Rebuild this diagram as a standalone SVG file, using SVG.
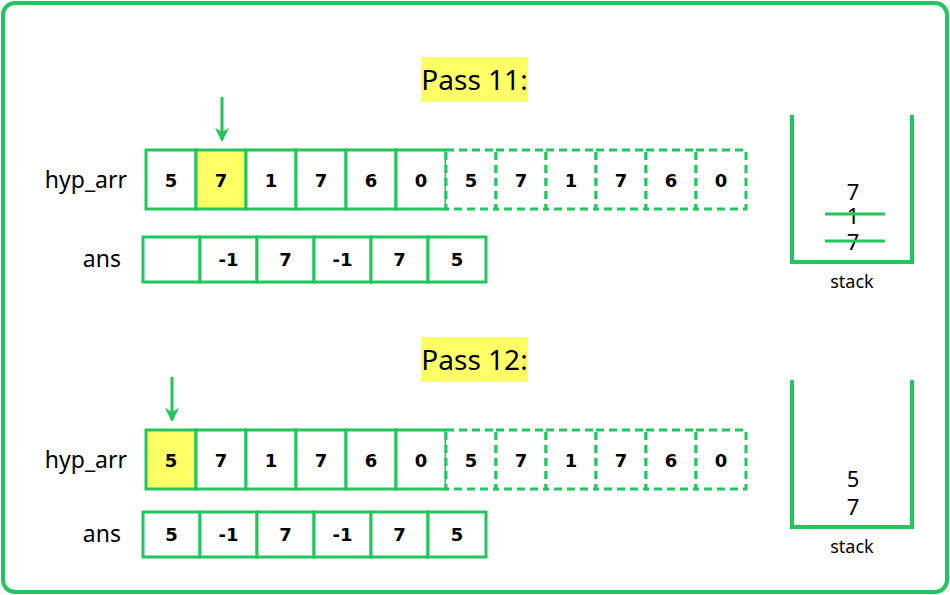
<svg xmlns="http://www.w3.org/2000/svg" width="950" height="595" viewBox="0 0 950 595">
<defs>
<style>
.cell{fill:#fff;stroke:#22c55e;stroke-width:3}
.hl{fill:#ffff66;stroke:#22c55e;stroke-width:3}
.dash{fill:#fff;stroke:#22c55e;stroke-width:3;stroke-dasharray:8 5}
.num{font-family:"DejaVu Sans",Verdana,sans-serif;font-weight:bold;font-size:18px;fill:#000;text-anchor:middle}
.lbl{font-family:"Noto Sans","Open Sans",sans-serif;font-size:23px;fill:#000;text-anchor:end}
.title{font-family:"Noto Sans","Open Sans",sans-serif;font-size:28px;fill:#000;text-anchor:middle}
.stk{font-family:"Noto Sans","Open Sans",sans-serif;font-size:22px;fill:#000;text-anchor:middle}
.stklbl{font-family:"Noto Sans","Open Sans",sans-serif;font-size:18px;fill:#000;text-anchor:middle}
.g{stroke:#22c55e;stroke-width:4;fill:none}
</style>
<marker id="ah" markerWidth="14" markerHeight="14" refX="12" refY="7" orient="auto" markerUnits="userSpaceOnUse" viewBox="0 0 14 14">
<path d="M0,0 L14,7 L0,14 L4,7 Z" fill="#22c55e"/>
</marker>
</defs>
<rect x="3" y="3" width="944" height="589" rx="12" fill="#fff" stroke="#22c55e" stroke-width="4"/>

<g id="pass11">
<g id="title11"><rect x="421" y="57" width="107" height="45" fill="#ffff66"/><text class="title" x="474.5" y="90">Pass 11:</text></g>
<g id="hyp1">
<text class="lbl" x="127" y="188">hyp_arr</text>
<rect class="cell" x="146" y="150" width="50" height="59"/><text class="num" x="171" y="187">5</text>
<rect class="hl" x="196" y="150" width="50" height="59"/><text class="num" x="221" y="187">7</text>
<rect class="cell" x="246" y="150" width="50" height="59"/><text class="num" x="271" y="187">1</text>
<rect class="cell" x="296" y="150" width="50" height="59"/><text class="num" x="321" y="187">7</text>
<rect class="cell" x="346" y="150" width="50" height="59"/><text class="num" x="371" y="187">6</text>
<rect class="cell" x="396" y="150" width="50" height="59"/><text class="num" x="421" y="187">0</text>
<rect class="dash" x="446" y="150" width="50" height="59"/><text class="num" x="471" y="187">5</text>
<rect class="dash" x="496" y="150" width="50" height="59"/><text class="num" x="521" y="187">7</text>
<rect class="dash" x="546" y="150" width="50" height="59"/><text class="num" x="571" y="187">1</text>
<rect class="dash" x="596" y="150" width="50" height="59"/><text class="num" x="621" y="187">7</text>
<rect class="dash" x="646" y="150" width="50" height="59"/><text class="num" x="671" y="187">6</text>
<rect class="dash" x="696" y="150" width="50" height="59"/><text class="num" x="721" y="187">0</text>
</g>
<g id="ans1">
<text class="lbl" x="121" y="267">ans</text>
<rect class="cell" x="143" y="237" width="57" height="45"/>
<rect class="cell" x="200" y="237" width="57" height="45"/><text class="num" x="228.5" y="266">-1</text>
<rect class="cell" x="257" y="237" width="57" height="45"/><text class="num" x="285.5" y="266">7</text>
<rect class="cell" x="314" y="237" width="57" height="45"/><text class="num" x="342.5" y="266">-1</text>
<rect class="cell" x="371" y="237" width="57" height="45"/><text class="num" x="399.5" y="266">7</text>
<rect class="cell" x="428" y="237" width="58" height="45"/><text class="num" x="457" y="266">5</text>
</g>
<g id="stack1">
<path class="g" d="M792,115 V262 H912 V115"/>
<text class="stk" x="853" y="200">7</text>
<text class="stk" x="853" y="224">1</text>
<text class="stk" x="853" y="250">7</text>
<line x1="825" y1="214" x2="885" y2="214" stroke="#22c55e" stroke-width="3"/>
<line x1="825" y1="241" x2="885" y2="241" stroke="#22c55e" stroke-width="3"/>
<text class="stklbl" x="852" y="288">stack</text>
</g>
</g>

<g id="pass12">
<g id="title12"><rect x="421" y="337" width="107" height="45" fill="#ffff66"/><text class="title" x="474.5" y="370">Pass 12:</text></g>
<g id="hyp2">
<text class="lbl" x="127" y="468">hyp_arr</text>
<rect class="hl" x="146" y="430" width="50" height="59"/><text class="num" x="171" y="467">5</text>
<rect class="cell" x="196" y="430" width="50" height="59"/><text class="num" x="221" y="467">7</text>
<rect class="cell" x="246" y="430" width="50" height="59"/><text class="num" x="271" y="467">1</text>
<rect class="cell" x="296" y="430" width="50" height="59"/><text class="num" x="321" y="467">7</text>
<rect class="cell" x="346" y="430" width="50" height="59"/><text class="num" x="371" y="467">6</text>
<rect class="cell" x="396" y="430" width="50" height="59"/><text class="num" x="421" y="467">0</text>
<rect class="dash" x="446" y="430" width="50" height="59"/><text class="num" x="471" y="467">5</text>
<rect class="dash" x="496" y="430" width="50" height="59"/><text class="num" x="521" y="467">7</text>
<rect class="dash" x="546" y="430" width="50" height="59"/><text class="num" x="571" y="467">1</text>
<rect class="dash" x="596" y="430" width="50" height="59"/><text class="num" x="621" y="467">7</text>
<rect class="dash" x="646" y="430" width="50" height="59"/><text class="num" x="671" y="467">6</text>
<rect class="dash" x="696" y="430" width="50" height="59"/><text class="num" x="721" y="467">0</text>
</g>
<g id="ans2">
<text class="lbl" x="121" y="542">ans</text>
<rect class="cell" x="143" y="512" width="57" height="45"/><text class="num" x="171.5" y="541">5</text>
<rect class="cell" x="200" y="512" width="57" height="45"/><text class="num" x="228.5" y="541">-1</text>
<rect class="cell" x="257" y="512" width="57" height="45"/><text class="num" x="285.5" y="541">7</text>
<rect class="cell" x="314" y="512" width="57" height="45"/><text class="num" x="342.5" y="541">-1</text>
<rect class="cell" x="371" y="512" width="57" height="45"/><text class="num" x="399.5" y="541">7</text>
<rect class="cell" x="428" y="512" width="58" height="45"/><text class="num" x="457" y="541">5</text>
</g>
<g id="stack2">
<path class="g" d="M792,380 V527 H912 V380"/>
<text class="stk" x="853" y="487">5</text>
<text class="stk" x="853" y="515">7</text>
<text class="stklbl" x="852" y="553">stack</text>
</g>
</g>

<g id="connectors">
<line x1="222" y1="97" x2="222" y2="140" stroke="#22c55e" stroke-width="3" marker-end="url(#ah)"/>
<line x1="172" y1="377" x2="172" y2="420" stroke="#22c55e" stroke-width="3" marker-end="url(#ah)"/>
</g>
</svg>
